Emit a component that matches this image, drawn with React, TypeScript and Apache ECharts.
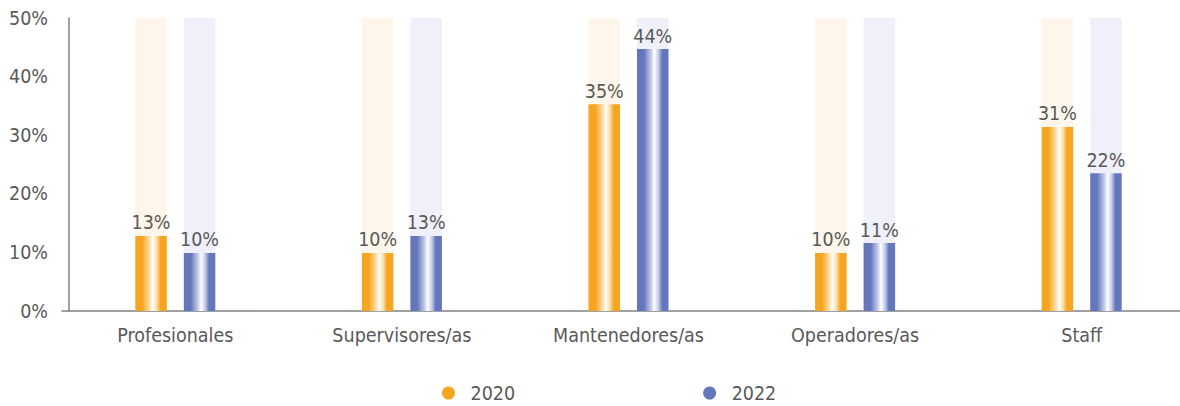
import React, { useEffect, useRef } from "react";
import * as echarts from "echarts";

const categories = ["Profesionales", "Supervisores/as", "Mantenedores/as", "Operadores/as", "Staff"];
const seriesNames = ["2020", "2022"];
const values2020 = [12.8, 9.9, 35.3, 9.9, 31.4];
const values2022 = [9.9, 12.8, 44.7, 11.6, 23.5];
const labels2020 = ["13%", "10%", "35%", "10%", "31%"];
const labels2022 = ["10%", "13%", "44%", "11%", "22%"];
const yTicks = [0, 10, 20, 30, 40, 50];

const ORANGE = "#F6A520";
const BLUE = "#6577BC";
const TEXT = "#595959";
const FONT = "'DejaVu Sans Condensed', Roboto, sans-serif";
const FS = 19.5;

function grad(c: string, light: string) {
  return new echarts.graphic.LinearGradient(0, 0, 1, 0, [
    { offset: 0, color: c },
    { offset: 0.22, color: c },
    { offset: 0.45, color: light },
    { offset: 0.55, color: "#FFFFFF" },
    { offset: 0.68, color: light },
    { offset: 0.8, color: c },
    { offset: 1, color: c },
  ]);
}

export default function App() {
  const ref = useRef<HTMLDivElement>(null);
  useEffect(() => {
    if (!ref.current) return;
    const chart = echarts.init(ref.current, null, { renderer: "svg" });
    const mk = (name: string, vals: number[], labels: string[], c: string, light: string, bg: string) => ({
      name,
      type: "bar",
      data: vals,
      barWidth: 31.5,
      barGap: "54%",
      showBackground: true,
      backgroundStyle: { color: bg },
      itemStyle: { color: grad(c, light) },
      label: {
        show: true,
        position: "top",
        distance: 3,
        color: TEXT,
        fontFamily: FONT,
        fontSize: FS,
        formatter: (p: any) => labels[p.dataIndex],
      },
    });
    chart.setOption({
      animation: false,
      grid: { left: 62, top: 18, right: 0, bottom: 95 },
      legend: {
        left: 437,
        top: 378,
        itemGap: 188,
        icon: "circle",
        itemWidth: 34,
        itemHeight: 13,
        textStyle: { color: TEXT, fontFamily: FONT, fontSize: FS },
        data: [
          { name: seriesNames[0], itemStyle: { color: ORANGE } },
          { name: seriesNames[1], itemStyle: { color: BLUE } },
        ],
      },
      xAxis: {
        type: "category",
        data: categories,
        axisLine: { lineStyle: { color: "#808080", width: 1.5 } },
        axisTick: { show: false },
        axisLabel: { color: TEXT, fontFamily: FONT, fontSize: FS, margin: 14 },
      },
      yAxis: {
        type: "value",
        min: yTicks[0],
        max: yTicks[yTicks.length - 1],
        interval: 10,
        offset: -7,
        axisLine: { show: true, lineStyle: { color: "#808080", width: 1.5 } },
        axisTick: { show: false },
        splitLine: { show: false },
        axisLabel: { color: TEXT, fontFamily: FONT, fontSize: FS, margin: 21, formatter: "{value}%" },
      },
      series: [
        mk(seriesNames[0], values2020, labels2020, ORANGE, "#FCDDA8", "#FEF6EA"),
        mk(seriesNames[1], values2022, labels2022, BLUE, "#C5CCE8", "#F0F0FA"),
      ],
    });
    return () => chart.dispose();
  }, []);
  return (
    <div style={{ position: "absolute", left: 0, top: 0, width: 1180, height: 406, overflow: "hidden" }}>
      <div ref={ref} style={{ width: 1195, height: 406 }} />
    </div>
  );
}
